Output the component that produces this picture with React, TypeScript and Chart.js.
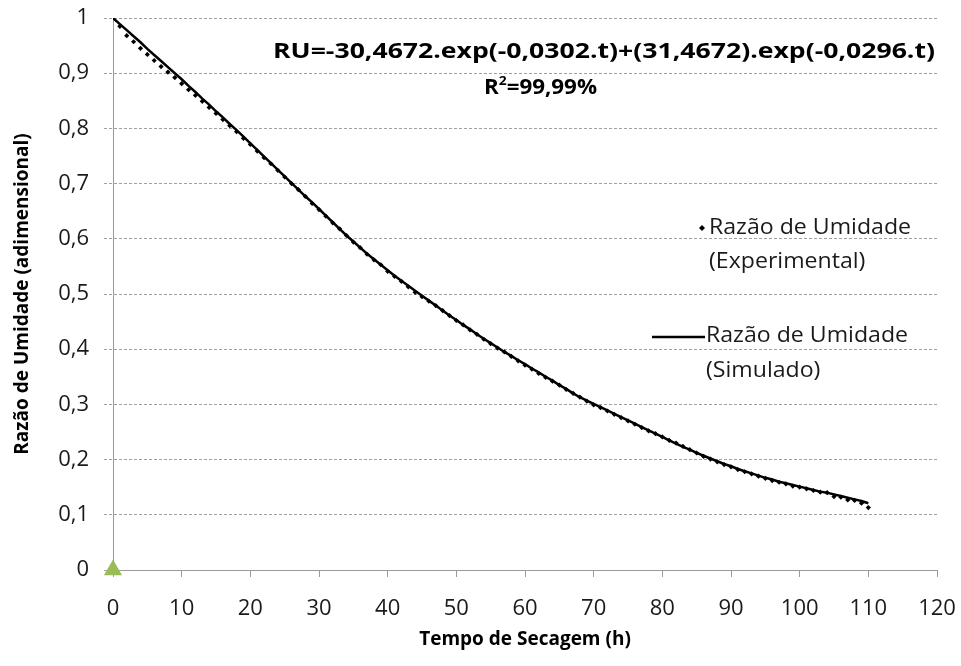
import { useEffect, useRef } from 'react';
import { Chart, registerables } from 'chart.js';

Chart.register(...registerables);

const timeHours = [
  0, 1, 2, 3, 4, 5, 6, 7, 8, 9,
  10, 11, 12, 13, 14, 15, 16, 17, 18, 19,
  20, 21, 22, 23, 24, 25, 26, 27, 28, 29,
  30, 31, 32, 33, 34, 35, 36, 37, 38, 39,
  40, 41, 42, 43, 44, 45, 46, 47, 48, 49,
  50, 51, 52, 53, 54, 55, 56, 57, 58, 59,
  60, 61, 62, 63, 64, 65, 66, 67, 68, 69,
  70, 71, 72, 73, 74, 75, 76, 77, 78, 79,
  80, 81, 82, 83, 84, 85, 86, 87, 88, 89,
  90, 91, 92, 93, 94, 95, 96, 97, 98, 99,
  100, 101, 102, 103, 104, 105, 106, 107, 108, 109,
  110,
];

const ruExperimental = [
  1.000, 0.985, 0.968, 0.957, 0.945, 0.934, 0.923, 0.912, 0.902, 0.892,
  0.881, 0.870, 0.860, 0.849, 0.838, 0.827, 0.816, 0.805, 0.794, 0.782,
  0.771, 0.759, 0.747, 0.736, 0.724, 0.712, 0.700, 0.689, 0.677, 0.664,
  0.653, 0.641, 0.629, 0.618, 0.606, 0.594, 0.584, 0.572, 0.562, 0.553,
  0.541, 0.532, 0.523, 0.513, 0.503, 0.495, 0.487, 0.479, 0.470, 0.461,
  0.452, 0.444, 0.435, 0.427, 0.418, 0.410, 0.402, 0.395, 0.387, 0.379,
  0.371, 0.364, 0.356, 0.349, 0.342, 0.335, 0.327, 0.320, 0.313, 0.306,
  0.299, 0.294, 0.288, 0.282, 0.276, 0.270, 0.264, 0.258, 0.252, 0.247,
  0.241, 0.235, 0.230, 0.224, 0.218, 0.212, 0.206, 0.201, 0.196, 0.191,
  0.187, 0.182, 0.178, 0.174, 0.170, 0.166, 0.162, 0.159, 0.156, 0.152,
  0.150, 0.147, 0.144, 0.141, 0.140, 0.133, 0.132, 0.127, 0.126, 0.121,
  0.113,
];

const ruSimulated = [
  1.000, 0.989, 0.978, 0.967, 0.956, 0.944, 0.933, 0.922, 0.911, 0.900,
  0.889, 0.877, 0.866, 0.854, 0.843, 0.831, 0.820, 0.808, 0.797, 0.785,
  0.773, 0.761, 0.749, 0.737, 0.725, 0.713, 0.701, 0.689, 0.677, 0.666,
  0.654, 0.642, 0.630, 0.618, 0.606, 0.595, 0.584, 0.573, 0.563, 0.553,
  0.543, 0.533, 0.524, 0.515, 0.506, 0.497, 0.488, 0.479, 0.470, 0.461,
  0.453, 0.444, 0.436, 0.427, 0.419, 0.411, 0.403, 0.395, 0.388, 0.380,
  0.373, 0.365, 0.358, 0.350, 0.343, 0.335, 0.328, 0.320, 0.313, 0.307,
  0.301, 0.295, 0.289, 0.283, 0.277, 0.271, 0.265, 0.259, 0.253, 0.247,
  0.241, 0.235, 0.229, 0.223, 0.218, 0.212, 0.207, 0.202, 0.197, 0.192,
  0.188, 0.183, 0.179, 0.175, 0.171, 0.167, 0.164, 0.160, 0.157, 0.154,
  0.151, 0.148, 0.145, 0.142, 0.140, 0.137, 0.134, 0.131, 0.128, 0.125,
  0.121,
];

const originMarkerX = [0];
const originMarkerY = [0];

const xAxisMin = 0;
const xAxisMax = 120;
const xAxisStep = 10;
const yAxisMin = 0;
const yAxisMax = 1;
const yAxisStep = 0.1;

const xAxisTitle = 'Tempo de Secagem (h)';
const yAxisTitle = 'Razão de Umidade (adimensional)';
const legendExperimental = ['Razão de Umidade', '(Experimental)'];
const legendSimulated = ['Razão de Umidade', '(Simulado)'];
const equationText = 'RU=-30,4672.exp(-0,0302.t)+(31,4672).exp(-0,0296.t)';
const r2Base = 'R';
const r2Sup = '2';
const r2Rest = '=99,99%';

const FONT = "'Open Sans', 'DejaVu Sans', sans-serif";

// draw a text line stretched horizontally by sx, left-aligned at x
function drawStretched(ctx: CanvasRenderingContext2D, text: string, x: number, y: number, sx: number) {
  ctx.save();
  ctx.translate(x, y);
  ctx.scale(sx, 1);
  ctx.textAlign = 'left';
  ctx.fillText(text, 0, 0);
  ctx.restore();
}

const annotationPlugin = {
  id: 'annotations',
  afterDraw(chart: any) {
    const ctx = chart.ctx as CanvasRenderingContext2D;
    ctx.save();
    ctx.fillStyle = '#000';
    ctx.textBaseline = 'middle';

    // Equation: spans roughly 273..935
    ctx.font = `bold 21px ${FONT}`;
    const eqW = ctx.measureText(equationText).width;
    const eqSx = 662 / eqW;
    drawStretched(ctx, equationText, 273, 52, eqSx);

    // R^2 spans roughly 484..597
    ctx.font = `bold 21px ${FONT}`;
    const wR = ctx.measureText(r2Base).width;
    const wRest = ctx.measureText(r2Rest).width;
    ctx.font = `bold 13px ${FONT}`;
    const wSup = ctx.measureText(r2Sup).width;
    const total = wR + wSup + wRest;
    const r2Sx = 113 / total;
    let x = 484;
    ctx.font = `bold 21px ${FONT}`;
    drawStretched(ctx, r2Base, x, 88, r2Sx);
    x += wR * r2Sx;
    ctx.font = `bold 13px ${FONT}`;
    drawStretched(ctx, r2Sup, x, 81, r2Sx);
    x += wSup * r2Sx;
    ctx.font = `bold 21px ${FONT}`;
    drawStretched(ctx, r2Rest, x, 88, r2Sx);

    // Legend
    ctx.font = `21px ${FONT}`;
    ctx.fillStyle = '#1a1a1a';
    const lw = ctx.measureText(legendExperimental[0]).width;
    const lsx = 202 / lw;
    drawStretched(ctx, legendExperimental[0], 709, 228, lsx);
    drawStretched(ctx, legendExperimental[1], 709, 262, lsx);
    drawStretched(ctx, legendSimulated[0], 706, 336, lsx);
    drawStretched(ctx, legendSimulated[1], 706, 371, lsx);

    // legend marker: diamond
    ctx.fillStyle = '#000';
    ctx.beginPath();
    ctx.moveTo(702, 225);
    ctx.lineTo(705, 228);
    ctx.lineTo(702, 231);
    ctx.lineTo(699, 228);
    ctx.closePath();
    ctx.fill();

    // legend line
    ctx.strokeStyle = '#000';
    ctx.lineWidth = 2.5;
    ctx.beginPath();
    ctx.moveTo(652, 337);
    ctx.lineTo(705, 337);
    ctx.stroke();

    ctx.restore();
  },
};

export default function App() {
  const canvasRef = useRef<HTMLCanvasElement | null>(null);

  useEffect(() => {
    if (!canvasRef.current) return;
    const expData = timeHours.map((t, i) => ({ x: t, y: ruExperimental[i] }));
    const simData = timeHours.map((t, i) => ({ x: t, y: ruSimulated[i] }));
    const originData = originMarkerX.map((t, i) => ({ x: t, y: originMarkerY[i] }));

    const chart = new Chart(canvasRef.current, {
      type: 'scatter',
      data: {
        datasets: [
          {
            label: 'Razão de Umidade (Simulado)',
            data: simData,
            showLine: true,
            borderColor: '#000',
            borderWidth: 2.5,
            pointRadius: 0,
            fill: false,
            tension: 0,
            order: 1,
          },
          {
            label: 'Razão de Umidade (Experimental)',
            data: expData,
            showLine: false,
            pointStyle: 'rectRot',
            pointRadius: 2.6,
            backgroundColor: '#000',
            borderColor: '#000',
            borderWidth: 0,
            order: 2,
          },
          {
            label: 'origin',
            data: originData,
            showLine: false,
            pointStyle: 'triangle',
            pointRadius: 10.5,
            backgroundColor: '#9BBB59',
            borderColor: '#9BBB59',
            borderWidth: 0,
            clip: false,
            order: 0,
          } as any,
        ],
      },
      options: {
        responsive: false,
        animation: false,
        events: [],
        layout: { padding: { top: 18, right: 24, left: 0, bottom: 0 } },
        plugins: {
          legend: { display: false },
          tooltip: { enabled: false },
        },
        scales: {
          x: {
            type: 'linear',
            min: xAxisMin,
            max: xAxisMax,
            afterFit: (scale: any) => {
              scale.height = 96;
              scale.paddingLeft = 0;
              scale.paddingRight = 0;
            },
            ticks: {
              stepSize: xAxisStep,
              padding: 19,
              color: '#1a1a1a',
              font: { family: FONT, size: 22 },
              maxRotation: 0,
            },
            grid: {
              drawOnChartArea: false,
              drawTicks: true,
              tickLength: 7,
              color: '#9A9A9A',
              lineWidth: 1,
            },
            border: { display: true, color: '#9A9A9A', width: 1 },
            title: {
              display: true,
              text: xAxisTitle,
              color: '#000',
              font: { family: FONT, size: 19, weight: 'bold' },
              padding: { top: 0, bottom: 15 },
            },
          },
          y: {
            type: 'linear',
            min: yAxisMin,
            max: yAxisMax,
            afterFit: (scale: any) => {
              scale.width = 113;
              scale.paddingTop = 0;
              scale.paddingBottom = 0;
            },
            ticks: {
              stepSize: yAxisStep,
              padding: 15,
              color: '#1a1a1a',
              font: { family: FONT, size: 22 },
              callback: (v: any) => {
                const n = Number(v);
                if (Math.abs(n) < 1e-9) return '0';
                if (Math.abs(n - 1) < 1e-9) return '1';
                return n.toFixed(1).replace('.', ',');
              },
            },
            grid: {
              drawOnChartArea: true,
              drawTicks: true,
              tickLength: 9,
              color: '#A0A0A0',
              lineWidth: 1,
              tickBorderDash: [3, 2],
            } as any,
            border: { display: true, color: '#9A9A9A', width: 1, dash: [3, 2] },
            title: {
              display: true,
              text: yAxisTitle,
              color: '#000',
              font: { family: FONT, size: 19, weight: 'bold' },
              padding: { top: 11, bottom: 0 },
            },
          },
        },
      },
      plugins: [annotationPlugin],
    });
    return () => chart.destroy();
  }, []);

  return (
    <div style={{ position: 'fixed', left: 0, top: 0, width: 961, height: 666, background: '#fff' }}>
      <canvas ref={canvasRef} width={961} height={666} style={{ display: 'block' }} />
    </div>
  );
}
